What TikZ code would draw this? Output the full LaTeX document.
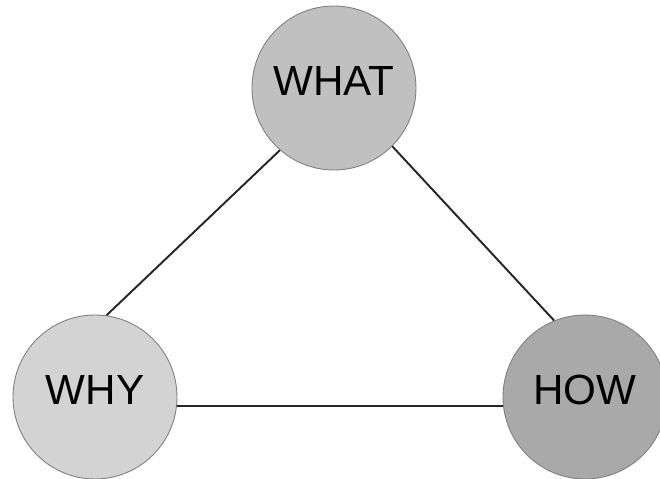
\documentclass[tikz,border=0pt]{standalone}
\usepackage[svgnames]{xcolor}
\usepackage{fontspec}
\setmainfont{Liberation Sans}

\begin{document}
\begin{tikzpicture}[x=0.02cm, y=-0.02cm, font=\fontsize{24}{28}\selectfont,
	topic/.style={circle, draw=Gray, line width=0.5pt, minimum size=3.28cm, inner sep=0pt, text depth=0.3cm}]
	\useasboundingbox (0,0) rectangle (660,479);
	\node[topic, fill=Silver] (what) at (334,88) {WHAT};
	\node[topic, fill=LightGray] (why) at (95,397) {WHY};
	\node[topic, fill=DarkGray] (how) at (585,397) {HOW};
	\draw[line width=1.1pt, color=black!85] (what.229) -- (why.82);
	\draw[line width=1.1pt, color=black!85] (what.-45) -- (how.112);
	\draw[line width=1.1pt, color=black!85] (why.-6) -- (how.186);
\end{tikzpicture}
\end{document}
